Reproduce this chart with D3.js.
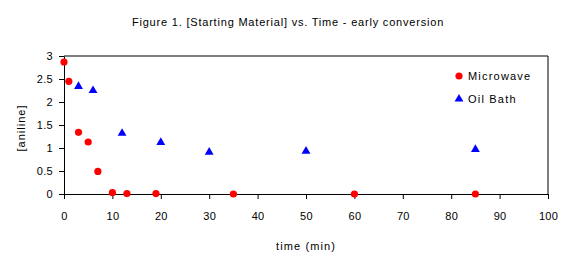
<!DOCTYPE html>
<html><head><meta charset="utf-8">
<script src="https://cdn.jsdelivr.net/npm/d3@7"></script>
<style>body{margin:0;background:#fff}svg{display:block}text{font-family:"Liberation Sans",Arial,sans-serif;fill:#000}</style>
</head><body><svg id="c" width="576" height="265"></svg>
<script>
const microwaveTime = [0, 1, 3, 5, 7, 10, 13, 19, 35, 60, 85];
const microwaveConc = [2.87, 2.45, 1.34, 1.13, 0.49, 0.03, 0.01, 0.01, 0.0, 0.0, 0.0];
const oilTime = [3, 6, 12, 20, 30, 50, 85];
const oilConc = [2.34, 2.25, 1.32, 1.12, 0.91, 0.93, 0.97];
const xTicks = [0,10,20,30,40,50,60,70,80,90,100];
const yTicks = [0,0.5,1,1.5,2,2.5,3];
const seriesNames = ["Microwave","Oil Bath"];

const svg = d3.select("#c");
const L=64, R=548, T=56, B=194;
const x = d3.scaleLinear().domain([0,100]).range([L,R]);
const y = d3.scaleLinear().domain([0,3]).range([B,T]);

svg.append("text").attr("x",288).attr("y",26).attr("text-anchor","middle").attr("font-size",11).attr("letter-spacing",0.8).text("Figure 1. [Starting Material] vs. Time - early conversion");

// frame top/right
svg.append("path").attr("d",`M${L},${T}H${R}V${B}`).attr("fill","none").attr("stroke","#000").attr("stroke-width",1);

const xa = svg.append("g").attr("transform",`translate(0,${B})`).call(d3.axisBottom(x).tickValues(xTicks).tickSize(5).tickSizeOuter(0).tickPadding(13));
const ya = svg.append("g").attr("transform",`translate(${L},0)`).call(d3.axisLeft(y).tickValues(yTicks).tickSize(5).tickSizeOuter(0).tickPadding(6).tickFormat(d3.format("")));
[xa,ya].forEach(a=>{a.selectAll("text").attr("font-size",11).attr("letter-spacing",0.3).style("font-family","Liberation Sans, Arial, sans-serif");a.select(".domain").attr("stroke","#000");a.selectAll("line").attr("stroke","#000");});

svg.append("text").attr("x",306).attr("y",249.5).attr("text-anchor","middle").attr("font-size",11).attr("letter-spacing",1.1).text("time (min)");
svg.append("text").attr("transform","translate(25,128) rotate(-90)").attr("text-anchor","middle").attr("font-size",11).attr("letter-spacing",1).text("[aniline]");

const tri = d3.symbol().type(d3.symbolTriangle).size(34);
const mw = microwaveTime.map((t,i)=>[t,microwaveConc[i]]);
const ob = oilTime.map((t,i)=>[t,oilConc[i]]);
svg.append("g").selectAll("path").data(ob).join("path").attr("d",tri).attr("transform",d=>`translate(${x(d[0])},${y(d[1])})`).attr("fill","#0000FF");
svg.append("g").selectAll("circle").data(mw).join("circle").attr("cx",d=>x(d[0])).attr("cy",d=>y(d[1])).attr("r",3.6).attr("fill","#FF0000");

// legend
const lg = svg.append("g");
lg.append("circle").attr("cx",459).attr("cy",76).attr("r",3.6).attr("fill","#FF0000");
lg.append("path").attr("d",tri).attr("transform","translate(459,99)").attr("fill","#0000FF");
lg.append("text").attr("x",468).attr("y",80).attr("font-size",11).attr("letter-spacing",1.2).text(seriesNames[0]);
lg.append("text").attr("x",468).attr("y",103).attr("font-size",11).attr("letter-spacing",1.2).text(seriesNames[1]);
</script></body></html>
